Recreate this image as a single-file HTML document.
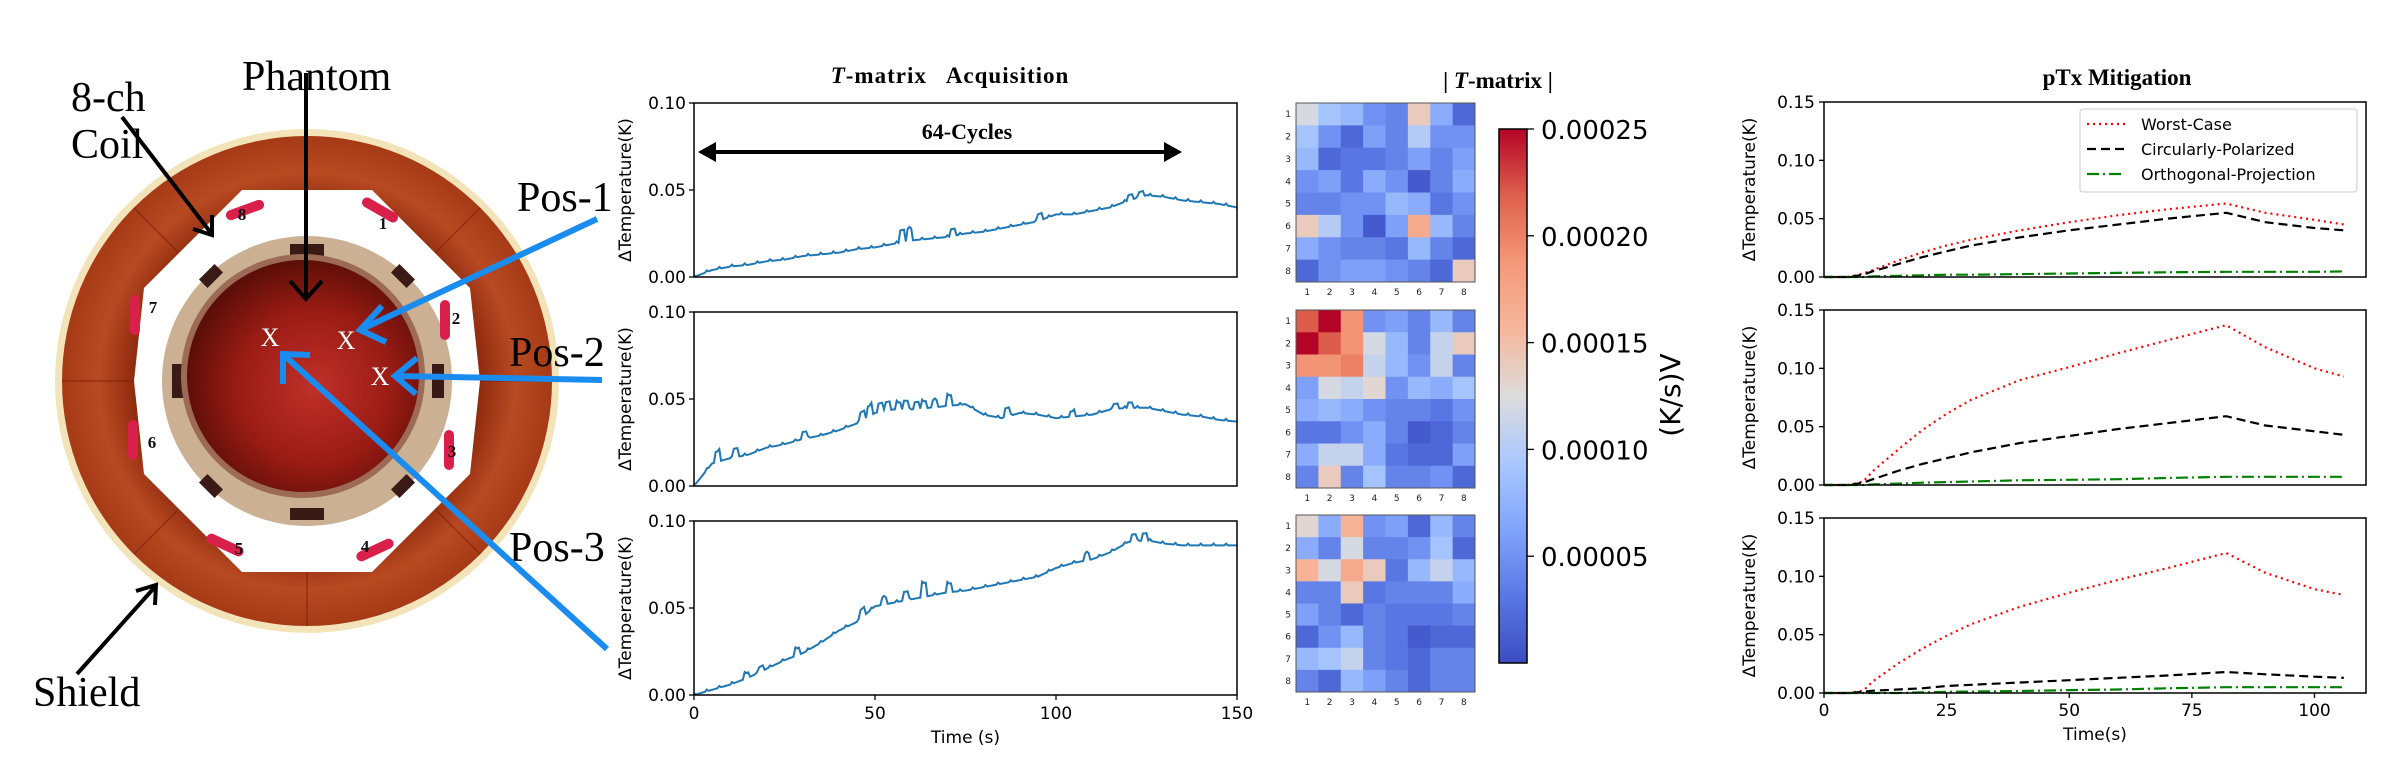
<!DOCTYPE html>
<html><head><meta charset="utf-8"><style>
html,body{margin:0;padding:0;background:#fff;}
svg{display:block;}
text{font-family:"DejaVu Sans","Liberation Sans",sans-serif;}
text.serif,.serif text{font-family:"Liberation Serif","DejaVu Serif",serif;}
</style></head><body>
<svg id="fig" width="2384" height="767" viewBox="0 0 2384 767" xmlns="http://www.w3.org/2000/svg">
<defs>
<radialGradient id="copper" cx="50%" cy="50%" r="50%">
<stop offset="70%" stop-color="#8e2a0e"/><stop offset="85%" stop-color="#b84a22"/><stop offset="100%" stop-color="#a63a16"/>
</radialGradient>
<radialGradient id="phantomG" cx="55%" cy="55%" r="55%">
<stop offset="0%" stop-color="#c0302a"/><stop offset="60%" stop-color="#9a1c14"/><stop offset="100%" stop-color="#5e0e08"/>
</radialGradient>
<linearGradient id="cbar" x1="0" y1="1" x2="0" y2="0">
<stop offset="0" stop-color="#3b4cc0"/><stop offset="0.125" stop-color="#5a78e4"/><stop offset="0.25" stop-color="#81a4fb"/><stop offset="0.375" stop-color="#aac7fd"/><stop offset="0.5" stop-color="#dddcdc"/><stop offset="0.625" stop-color="#f6b79c"/><stop offset="0.75" stop-color="#f4987a"/><stop offset="0.875" stop-color="#de604d"/><stop offset="1" stop-color="#b40426"/>
</linearGradient>
</defs>

<g>
<circle cx="307" cy="381" r="252" fill="#f3e3b8"/>
<circle cx="307" cy="381" r="245" fill="url(#copper)"/>
<g stroke="#7a2008" stroke-width="1.5" opacity="0.6">
<line x1="307" y1="136" x2="307" y2="210"/><line x1="480" y1="208" x2="428" y2="260"/><line x1="552" y1="381" x2="478" y2="381"/><line x1="480" y1="554" x2="428" y2="502"/><line x1="307" y1="626" x2="307" y2="552"/><line x1="134" y1="554" x2="186" y2="502"/><line x1="62" y1="381" x2="136" y2="381"/><line x1="134" y1="208" x2="186" y2="260"/>
</g>
<polygon points="242,190 372,190 470,288 480,381 470,474 372,572 242,572 144,474 134,381 144,288" fill="#ffffff"/>
<circle cx="307" cy="381" r="145" fill="#cbb093"/>
<g fill="#3a1a14">
<rect x="290" y="244" width="34" height="12"/><rect x="290" y="508" width="34" height="12"/><rect x="172" y="364" width="12" height="34"/><rect x="432" y="364" width="12" height="34"/>
<rect x="200" y="270" width="22" height="12" transform="rotate(-45 211 276)"/><rect x="392" y="270" width="22" height="12" transform="rotate(45 403 276)"/><rect x="200" y="480" width="22" height="12" transform="rotate(45 211 486)"/><rect x="392" y="480" width="22" height="12" transform="rotate(-45 403 486)"/>
</g>
<circle cx="303" cy="376" r="122" fill="#9c6a55"/>
<circle cx="303" cy="376" r="116" fill="url(#phantomG)"/>
<g fill="#d8204a">
<rect x="225" y="205" width="40" height="10" rx="5" transform="rotate(-20 245 210)"/><rect x="360" y="205" width="40" height="10" rx="5" transform="rotate(30 380 210)"/>
<rect x="440" y="300" width="10" height="40" rx="5"/><rect x="444" y="430" width="10" height="40" rx="5"/>
<rect x="355" y="545" width="40" height="10" rx="5" transform="rotate(-25 375 550)"/><rect x="205" y="540" width="40" height="10" rx="5" transform="rotate(25 225 545)"/>
<rect x="128" y="420" width="10" height="40" rx="5"/><rect x="130" y="295" width="10" height="40" rx="5"/>
</g>
<g class="serif" font-weight="bold" font-size="17" fill="#111" text-anchor="middle">
<text x="242" y="220">8</text>
<text x="383" y="229">1</text>
<text x="456" y="324">2</text>
<text x="452" y="457">3</text>
<text x="365" y="552">4</text>
<text x="239" y="554">5</text>
<text x="152" y="448">6</text>
<text x="153" y="313">7</text>
</g>
<g class="serif" font-size="26" fill="#fff" text-anchor="middle">
<text x="270" y="346">X</text>
<text x="346" y="349">X</text>
<text x="380" y="385">X</text>
</g>
</g>

<g class="serif" font-size="42" fill="#000">
<text x="242" y="90">Phantom</text>
<text x="71" y="111">8-ch</text>
<text x="71" y="158">Coil</text>
<text x="33" y="706">Shield</text>
<text x="517" y="211">Pos-1</text>
<text x="509" y="366">Pos-2</text>
<text x="509" y="561">Pos-3</text>
</g>
<g stroke="#000" stroke-width="4" fill="none">
<line x1="306" y1="73" x2="306" y2="296"/>
<polyline points="290,281 306,299 322,281"/>
<line x1="122" y1="117" x2="211" y2="233"/>
<polyline points="193,229 212,235 212,215"/>
<line x1="77" y1="674" x2="154" y2="588"/>
<polyline points="136,591 156,585 155,605"/>
</g>
<g stroke="#1a8cf0" stroke-width="6" fill="none">
<line x1="597" y1="219" x2="362" y2="329"/>
<polyline points="382,306 360,330 386,342"/>
<line x1="602" y1="380" x2="397" y2="376"/>
<polyline points="417,358 395,376 416,394"/>
<line x1="607" y1="649" x2="285" y2="356"/>
<polyline points="283,384 283,354 310,355"/>
</g>

<g id="mid"></g>
<g id="heat"></g>
<g id="right"></g>
</svg>

<script>
const midTimes = [0,5,10,15,20,25,30,35,40,45,50,55,60,65,70,75,80,85,90,95,100,105,110,115,120,125,130,135,140,145,150];
const midPos1 = [0,0.004,0.006,0.007,0.009,0.010,0.012,0.013,0.014,0.016,0.017,0.019,0.021,0.022,0.023,0.025,0.026,0.028,0.030,0.032,0.036,0.036,0.038,0.040,0.044,0.047,0.046,0.044,0.043,0.042,0.040];
const midPos2 = [0,0.013,0.016,0.018,0.022,0.024,0.027,0.029,0.032,0.036,0.042,0.044,0.044,0.045,0.046,0.047,0.041,0.039,0.042,0.041,0.039,0.040,0.041,0.044,0.045,0.045,0.043,0.041,0.040,0.038,0.037];
const midPos3 = [0,0.003,0.006,0.010,0.015,0.020,0.024,0.030,0.037,0.042,0.051,0.053,0.055,0.057,0.059,0.060,0.062,0.064,0.066,0.068,0.073,0.076,0.078,0.082,0.088,0.089,0.087,0.086,0.086,0.086,0.086];
const spikeT1 = [57,59,71,95,120,123];
const spikeA1 = [0.007,0.007,0.004,0.004,0.003,0.003];
const spikeT2 = [6,11,30,46,48,51,53,56,58,61,63,66,70,86,104,116,120];
const spikeA2 = [0.006,0.005,0.004,0.005,0.006,0.005,0.005,0.004,0.005,0.004,0.004,0.004,0.006,0.005,0.003,0.003,0.003];
const spikeT3 = [14,18,28,46,52,58,63,70,108,121,124];
const spikeA3 = [0.003,0.003,0.004,0.005,0.004,0.005,0.008,0.005,0.004,0.004,0.004];
const midXTicks = [0,50,100,150];
const midYTicks = [0.00,0.05,0.10];

const rTimes = [0,5,8,10,15,20,25,30,40,50,60,70,82,90,100,106];
const worst1 = [0,0,0.003,0.006,0.014,0.021,0.027,0.032,0.040,0.047,0.053,0.058,0.063,0.055,0.049,0.045];
const circ1  = [0,0,0.002,0.005,0.011,0.017,0.022,0.027,0.034,0.040,0.045,0.050,0.055,0.047,0.042,0.040];
const orth1  = [0,0,0,0.0005,0.001,0.0015,0.002,0.002,0.0025,0.003,0.0035,0.004,0.0045,0.0045,0.0045,0.0048];
const worst2 = [0,0,0.003,0.012,0.030,0.047,0.061,0.073,0.090,0.101,0.113,0.124,0.137,0.118,0.100,0.093];
const circ2  = [0,0,0.002,0.005,0.012,0.018,0.023,0.028,0.036,0.042,0.048,0.053,0.059,0.051,0.046,0.043];
const orth2  = [0,0,0,0.0005,0.0012,0.002,0.0025,0.003,0.004,0.0045,0.005,0.006,0.007,0.007,0.007,0.007];
const worst3 = [0,0,0.002,0.010,0.025,0.038,0.049,0.059,0.074,0.086,0.097,0.107,0.120,0.103,0.089,0.084];
const circ3  = [0,0,0.001,0.002,0.003,0.004,0.006,0.007,0.009,0.011,0.013,0.015,0.018,0.016,0.014,0.013];
const orth3  = [0,0,0,0,0,0.0005,0.001,0.0012,0.0017,0.0025,0.003,0.004,0.005,0.005,0.005,0.005];
const rXTicks = [0,25,50,75,100];
const rYTicks = [0.00,0.05,0.10,0.15];
const legendLabels = ["Worst-Case","Circularly-Polarized","Orthogonal-Projection"];

const heat1 = [[12,9,8,5,4,14,7,2],[9,5,2,6,4,10,5,5],[8,2,3,3,4,6,4,6],[5,6,3,7,5,1,4,7],[4,4,5,5,8,7,3,5],[14,10,5,1,6,17,8,4],[7,5,4,4,3,8,4,2],[2,5,6,6,5,4,2,14]];
const heat2 = [[22,25,19,5,6,4,8,4],[25,22,19,12,8,4,11,14],[19,19,20,11,8,5,11,4],[6,12,11,13,5,8,7,9],[7,8,7,5,4,4,3,5],[3,3,5,7,4,1,2,4],[7,11,11,7,3,2,2,6],[4,14,4,9,4,4,5,2]];
const heat3 = [[13,7,16,5,6,2,8,4],[7,4,12,4,4,5,9,2],[16,12,17,14,3,8,11,8],[4,4,14,3,4,4,4,7],[6,4,2,4,3,3,3,4],[2,5,8,4,3,1,2,2],[8,9,11,4,3,2,4,4],[4,2,8,6,4,2,4,4]];
const cbarTicks = [0.00005,0.00010,0.00015,0.00020,0.00025];
const cbarTickLabels = ["0.00005","0.00010","0.00015","0.00020","0.00025"];

const NS = "http://www.w3.org/2000/svg";
function mk(parent, tag, attrs, txt){
  const e = document.createElementNS(NS, tag);
  for (const k in attrs) e.setAttribute(k, attrs[k]);
  if (txt !== undefined) e.textContent = txt;
  parent.appendChild(e);
  return e;
}
function interp(ts, vs, t){
  for (let i=0;i<ts.length-1;i++){
    if (t>=ts[i] && t<=ts[i+1]) return vs[i]+(vs[i+1]-vs[i])*(t-ts[i])/(ts[i+1]-ts[i]);
  }
  return vs[vs.length-1];
}

const mid = document.getElementById('mid');
const MX0=694, MX1=1237, MTMAX=150, MYMAX=0.10, MH=174;
const midTops=[103,312,521];
const midSeries=[midPos1,midPos2,midPos3];
const midSpT=[spikeT1,spikeT2,spikeT3], midSpA=[spikeA1,spikeA2,spikeA3];
const mx = t => MX0 + t*(MX1-MX0)/MTMAX;
for (let p=0;p<3;p++){
  const top=midTops[p], bot=top+MH;
  const my = v => bot - v/MYMAX*MH;
  const g = mk(mid,'g',{});
  
  
  let pts=[];
  for (let t=0;t<=MTMAX;t+=0.5){
    let v=interp(midTimes, midSeries[p], t);
    for (let s=0;s<midSpT[p].length;s++){ if (t>=midSpT[p][s] && t<=midSpT[p][s]+1.2) v+=midSpA[p][s]; }
    v += (Math.round(t*2)%7===0?0.001:0);
    pts.push(mx(t).toFixed(1)+','+my(v).toFixed(1));
  }
  const ln = mk(g,'polyline',{points:pts.join(' '),fill:'none',stroke:'#1f77b4','stroke-width':2});
  
  
  const box = mk(g,'rect',{x:MX0,y:top,width:MX1-MX0,height:MH,fill:'none',stroke:'#000','stroke-width':1.5});
  
  
  for (const v of midYTicks){
    mk(g,'line',{x1:MX0-5,x2:MX0,y1:my(v),y2:my(v),stroke:'#000','stroke-width':1.3});
    const tl = mk(g,'text',{x:MX0-8,y:my(v)+6,'font-size':17,'text-anchor':'end'}, v.toFixed(2));
    
    
  }
  const yl = mk(g,'text',{x:0,y:0,'font-size':17,'text-anchor':'middle',transform:`translate(631 ${top+MH/2}) rotate(-90)`}, 'ΔTemperature(K)');
  
  
  if (p===2){
    for (const t of midXTicks){
      mk(g,'line',{x1:mx(t),x2:mx(t),y1:bot,y2:bot+5,stroke:'#000','stroke-width':1.3});
      const xl = mk(g,'text',{x:mx(t),y:bot+24,'font-size':17,'text-anchor':'middle'}, String(t));
      
      
    }
    const xt = mk(g,'text',{x:(MX0+MX1)/2,y:743,'font-size':17,'text-anchor':'middle'},'Time (s)');
    
    
  }
}
{
  const t = mk(mid,'text',{x:950,y:83,'font-size':23,'font-weight':'bold','text-anchor':'middle',class:'serif','letter-spacing':'1'});
  
  
  mk(t,'tspan',{'font-style':'italic'},'T');
  mk(t,'tspan',{},'-matrix\u00a0\u00a0 Acquisition');
  const c = mk(mid,'text',{x:967,y:139,'font-size':22,'font-weight':'bold','text-anchor':'middle',class:'serif'},'64-Cycles');
  
  
  const a = mk(mid,'line',{x1:712,y1:152,x2:1168,y2:152,stroke:'#000','stroke-width':4});
  
  
  mk(mid,'polygon',{points:'698,152 716,142 716,162',fill:'#000'});
  mk(mid,'polygon',{points:'1182,152 1164,142 1164,162',fill:'#000'});
}

const heat = document.getElementById('heat');
const cw = [[0,[59,76,192]],[0.125,[90,120,228]],[0.25,[129,164,251]],[0.375,[170,199,253]],[0.5,[221,220,220]],[0.625,[246,183,156]],[0.75,[244,152,122]],[0.875,[222,96,77]],[1,[180,4,38]]];
function coolwarm(f){
  f=Math.max(0,Math.min(1,f));
  for (let i=0;i<cw.length-1;i++){
    if (f<=cw[i+1][0]){
      const a=cw[i],b=cw[i+1],u=(f-a[0])/(b[0]-a[0]);
      return 'rgb('+a[1].map((c,k)=>Math.round(c+(b[1][k]-c)*u)).join(',')+')';
    }
  }
  return 'rgb(180,4,38)';
}
const HX0=1296, HX1=1475;
const heatTops=[103,310,515], heatBots=[282,488,692];
const heats=[heat1,heat2,heat3];
const VMAX=25;
for (let h=0;h<3;h++){
  const g=mk(heat,'g',{});
  
  
  const cwid=(HX1-HX0)/8, chgt=(heatBots[h]-heatTops[h])/8;
  for (let r=0;r<8;r++) for (let c=0;c<8;c++){
    const cell=mk(g,'rect',{x:HX0+c*cwid,y:heatTops[h]+r*chgt,width:cwid+0.5,height:chgt+0.5,fill:coolwarm(heats[h][r][c]/VMAX)});
    
    
  }
  mk(g,'rect',{x:HX0,y:heatTops[h],width:HX1-HX0,height:heatBots[h]-heatTops[h],fill:'none',stroke:'#555','stroke-width':1});
  for (let i=0;i<8;i++){
    mk(g,'text',{x:HX0+(i+0.5)*cwid,y:heatBots[h]+13,'font-size':9,'text-anchor':'middle',fill:'#222'},String(i+1));
    mk(g,'text',{x:HX0-5,y:heatTops[h]+(i+0.5)*chgt+3,'font-size':9,'text-anchor':'end',fill:'#222'},String(i+1));
  }
}
{
  const t=mk(heat,'text',{x:1498,y:88,'font-size':23,'font-weight':'bold','text-anchor':'middle',class:'serif'});
  
  
  mk(t,'tspan',{},'| ');
  mk(t,'tspan',{'font-style':'italic'},'T');
  mk(t,'tspan',{},'-matrix |');
  const CB0=129, CB1=663, CBX=1499, CBW=28, CBMAX=0.00025;
  const cy = v => CB1 - v/CBMAX*(CB1-CB0);
  const cb=mk(heat,'rect',{x:CBX,y:CB0,width:CBW,height:CB1-CB0,fill:'url(#cbar)',stroke:'#000','stroke-width':1.5});
  
  
  for (let i=0;i<cbarTicks.length;i++){
    const y=cy(cbarTicks[i]);
    mk(heat,'line',{x1:CBX+CBW,x2:CBX+CBW+7,y1:y,y2:y,stroke:'#000','stroke-width':1.3});
    const tl=mk(heat,'text',{x:1541,y:y+10,'font-size':26},cbarTickLabels[i]);
    
    
  }
  const cl=mk(heat,'text',{x:0,y:0,'font-size':28,'text-anchor':'middle',transform:'translate(1680 395) rotate(-90)'},'(K/s)V');
  
  
}

const right=document.getElementById('right');
const RX0=1824, RX1=2366, RTMAX=110.5, RYMAX=0.15, RH=175;
const rTops=[102,310,518];
const rx = t => RX0 + t*(RX1-RX0)/RTMAX;
const rSeries=[[worst1,circ1,orth1],[worst2,circ2,orth2],[worst3,circ3,orth3]];
const styles=[{stroke:'#ff0000',dash:'2,4',w:2.2},{stroke:'#000',dash:'9,5',w:2.2},{stroke:'#008000',dash:'12,4,2,4',w:2.2}];
for (let p=0;p<3;p++){
  const top=rTops[p], bot=top+RH;
  const ry = v => bot - v/RYMAX*RH;
  const g=mk(right,'g',{});
  
  
  for (let s=0;s<3;s++){
    const pts=rTimes.map((t,i)=>rx(t).toFixed(1)+','+ry(rSeries[p][s][i]).toFixed(1)).join(' ');
    const l=mk(g,'polyline',{points:pts,fill:'none',stroke:styles[s].stroke,'stroke-width':styles[s].w,'stroke-dasharray':styles[s].dash});
    
    
  }
  mk(g,'rect',{x:RX0,y:top,width:RX1-RX0,height:RH,fill:'none',stroke:'#000','stroke-width':1.5});
  for (const v of rYTicks){
    mk(g,'line',{x1:RX0-5,x2:RX0,y1:ry(v),y2:ry(v),stroke:'#000','stroke-width':1.3});
    const tl=mk(g,'text',{x:RX0-9,y:ry(v)+6,'font-size':17,'text-anchor':'end'},v.toFixed(2));
    
    
  }
  const yl=mk(g,'text',{x:0,y:0,'font-size':17,'text-anchor':'middle',transform:`translate(1755 ${top+RH/2}) rotate(-90)`},'ΔTemperature(K)');
  
  
  if (p===2){
    for (const t of rXTicks){
      mk(g,'line',{x1:rx(t),x2:rx(t),y1:bot,y2:bot+5,stroke:'#000','stroke-width':1.3});
      const xl=mk(g,'text',{x:rx(t),y:bot+23,'font-size':17,'text-anchor':'middle'},String(t));
      
      
    }
    const xt=mk(g,'text',{x:2095,y:740,'font-size':17,'text-anchor':'middle'},'Time(s)');
    
    
  }
  if (p===0){
    const lg=mk(g,'g',{});
    
    
    mk(lg,'rect',{x:2080,y:109,width:277,height:83,rx:3,fill:'#fff',stroke:'#ccc','stroke-width':1});
    for (let s=0;s<3;s++){
      const y=124+s*25;
      mk(lg,'line',{x1:2087,x2:2125,y1:y,y2:y,stroke:styles[s].stroke,'stroke-width':styles[s].w,'stroke-dasharray':styles[s].dash});
      const le=mk(lg,'text',{x:2141,y:y+6,'font-size':16},legendLabels[s]);
      
      
    }
  }
}
{
  const t=mk(right,'text',{x:2117,y:85,'font-size':23,'font-weight':'bold','text-anchor':'middle',class:'serif'},'pTx Mitigation');
  
  
}
</script>
</body></html>
